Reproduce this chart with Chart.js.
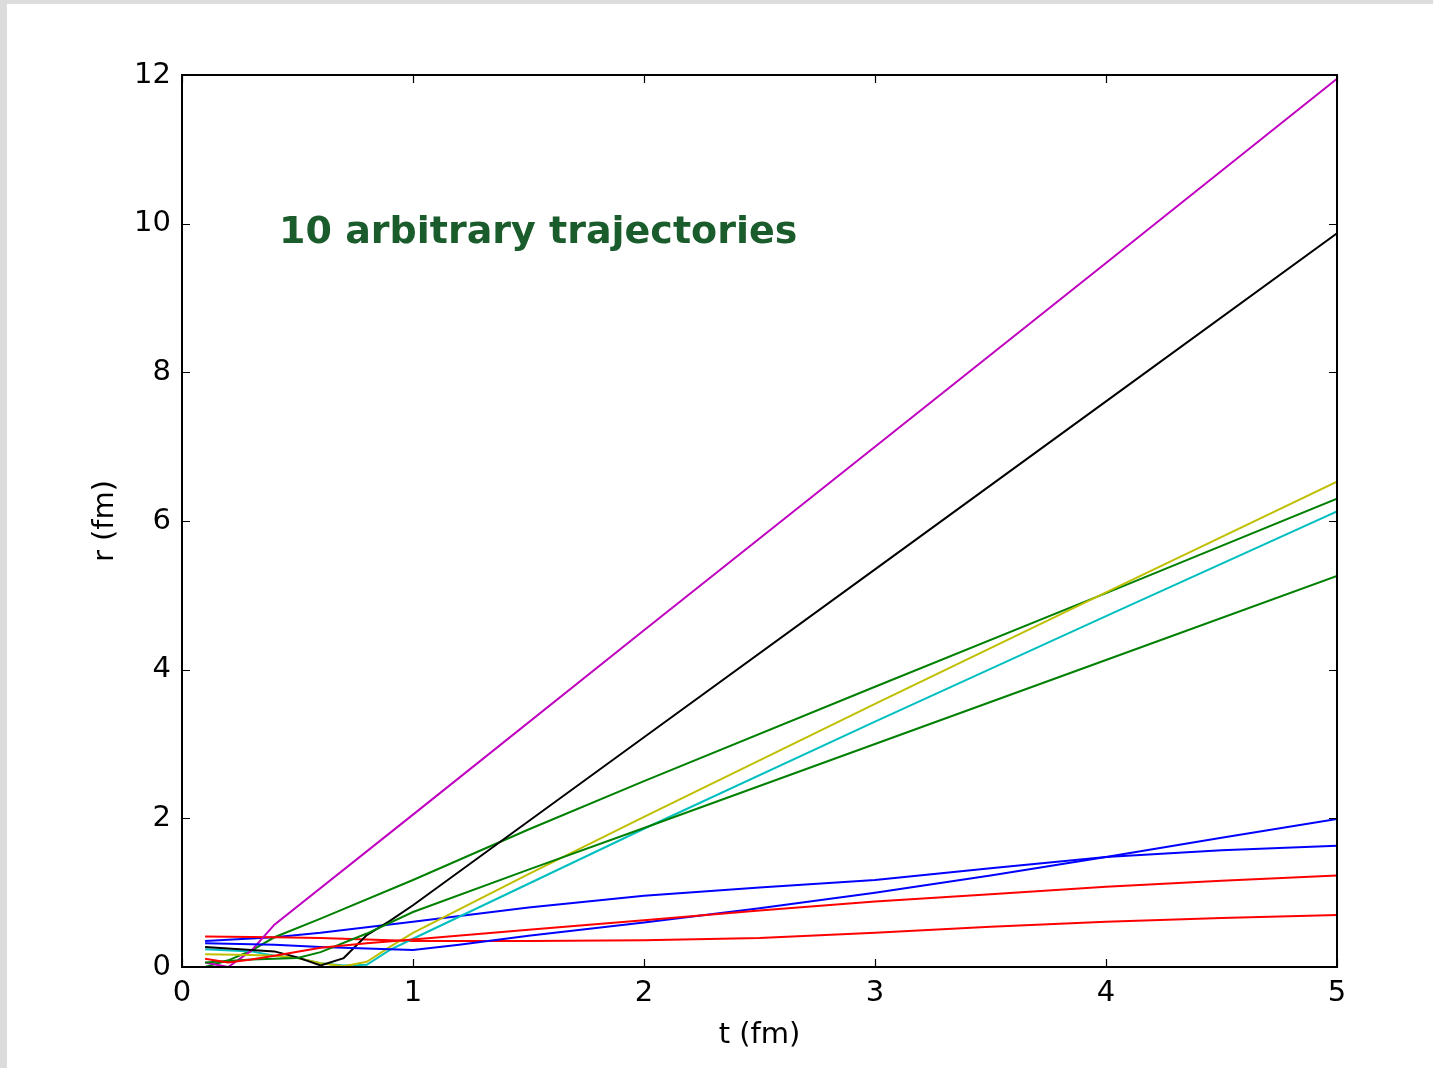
<!DOCTYPE html>
<html>
<head>
<meta charset="utf-8">
<script src="https://cdn.jsdelivr.net/npm/chart.js@4.4.0/dist/chart.umd.min.js"></script>
<style>
  html, body { margin: 0; padding: 0; background: #dcdcdc; overflow: hidden; width: 1433px; height: 1068px; }
  #c { position: absolute; left: 7px; top: 4px; background: #ffffff; }
</style>
</head>
<body>
<canvas id="c" width="1426" height="1064"></canvas>
<script>
// ---- Data (t in fm, r in fm) ----
const xTicks = [0, 1, 2, 3, 4, 5];
const yTicks = [0, 2, 4, 6, 8, 10, 12];
const xTitle = 't (fm)';
const yTitle = 'r (fm)';
const annotation = '10 arbitrary trajectories';

const tBlueA = [0.1, 0.4, 0.6, 1.0, 1.5, 2.0, 2.5, 3.0, 3.5, 4.0, 4.5, 5.0];
const rBlueA = [0.35, 0.40, 0.46, 0.61, 0.80, 0.96, 1.07, 1.17, 1.33, 1.48, 1.57, 1.63];

const tGreenA = [0.1, 0.2, 0.3, 0.4, 0.6, 1.0, 1.5, 2.0, 3.0, 4.0, 5.0];
const rGreenA = [0.0, 0.09, 0.22, 0.40, 0.65, 1.17, 1.85, 2.50, 3.77, 5.03, 6.30];

const tRedA = [0.1, 0.4, 0.6, 1.0, 1.5, 2.0, 2.5, 3.0, 3.5, 4.0, 4.5, 5.0];
const rRedA = [0.41, 0.40, 0.39, 0.35, 0.35, 0.36, 0.39, 0.46, 0.54, 0.61, 0.66, 0.70];

const tCyan = [0.1, 0.3, 0.4, 0.5, 0.6, 0.7, 0.8, 0.9, 1.0, 1.5, 2.0, 3.0, 4.0, 5.0];
const rCyan = [0.24, 0.21, 0.15, 0.12, 0.05, 0.02, 0.03, 0.23, 0.38, 1.12, 1.86, 3.30, 4.72, 6.13];

const tMagenta = [0.1, 0.2, 0.3, 0.4, 1.0, 2.0, 3.0, 4.0, 5.0];
const rMagenta = [0.06, 0.0, 0.22, 0.57, 2.05, 4.53, 7.00, 9.47, 11.95];

const tYellow = [0.1, 0.3, 0.4, 0.5, 0.6, 0.7, 0.8, 0.9, 1.0, 1.5, 2.0, 3.0, 4.0, 5.0];
const rYellow = [0.17, 0.16, 0.15, 0.12, 0.05, 0.01, 0.07, 0.27, 0.46, 1.25, 2.02, 3.54, 5.04, 6.53];

const tBlack = [0.1, 0.2, 0.3, 0.4, 0.5, 0.6, 0.7, 0.8, 0.9, 1.0, 2.0, 3.0, 4.0, 5.0];
const rBlack = [0.27, 0.25, 0.23, 0.21, 0.13, 0.02, 0.12, 0.43, 0.62, 0.83, 3.09, 5.35, 7.61, 9.87];

const tBlueB = [0.1, 0.4, 0.6, 0.8, 1.0, 1.2, 1.5, 2.0, 2.5, 3.0, 3.5, 4.0, 4.5, 5.0];
const rBlueB = [0.32, 0.30, 0.27, 0.25, 0.23, 0.30, 0.42, 0.60, 0.79, 1.00, 1.23, 1.48, 1.74, 1.99];

const tGreenB = [0.1, 0.2, 0.3, 0.5, 0.6, 0.8, 1.0, 1.5, 2.0, 3.0, 4.0, 5.0];
const rGreenB = [0.06, 0.08, 0.10, 0.12, 0.20, 0.45, 0.74, 1.31, 1.87, 3.00, 4.13, 5.26];

const tRedB = [0.1, 0.2, 0.3, 0.4, 0.6, 0.8, 1.0, 1.5, 2.0, 2.5, 3.0, 3.5, 4.0, 4.5, 5.0];
const rRedB = [0.11, 0.06, 0.10, 0.15, 0.26, 0.32, 0.37, 0.50, 0.63, 0.76, 0.88, 0.98, 1.08, 1.16, 1.23];

const seriesT = [tBlueA, tGreenA, tRedA, tCyan, tMagenta, tYellow, tBlack, tBlueB, tGreenB, tRedB];
const seriesR = [rBlueA, rGreenA, rRedA, rCyan, rMagenta, rYellow, rBlack, rBlueB, rGreenB, rRedB];
const seriesColors = ['#0000ff', '#008000', '#ff0000', '#00bfbf', '#bf00bf', '#bfbf00', '#000000', '#0000ff', '#008000', '#ff0000'];

// ---- Build datasets ----
const datasets = seriesT.map((ts, i) => ({
  data: ts.map((t, k) => ({ x: t, y: seriesR[i][k] })),
  borderColor: seriesColors[i],
  borderWidth: 2,
  pointRadius: 0,
  tension: 0,
  fill: false,
  order: seriesT.length - i
}));

const FONT = 'DejaVu Sans';

const framePlugin = {
  id: 'frame',
  afterDraw(chart) {
    const ctx = chart.ctx;
    const a = chart.chartArea;
    const xs = chart.scales.x, ys = chart.scales.y;
    ctx.save();
    // annotation text
    ctx.fillStyle = '#1a5c2c';
    ctx.font = 'bold 38px "Comic Sans MS", "DejaVu Sans"';
    ctx.textAlign = 'left';
    ctx.textBaseline = 'alphabetic';
    ctx.fillText(annotation, xs.getPixelForValue(0.42), ys.getPixelForValue(9.74));
    // ticks inward
    ctx.strokeStyle = '#000';
    ctx.lineWidth = 1.2;
    const L = 8;
    ctx.beginPath();
    xTicks.forEach(v => {
      const px = Math.round(xs.getPixelForValue(v)) + 0.5;
      ctx.moveTo(px, a.bottom); ctx.lineTo(px, a.bottom - L);
      ctx.moveTo(px, a.top); ctx.lineTo(px, a.top + L);
    });
    yTicks.forEach(v => {
      const py = Math.round(ys.getPixelForValue(v)) + 0.5;
      ctx.moveTo(a.left, py); ctx.lineTo(a.left + L, py);
      ctx.moveTo(a.right, py); ctx.lineTo(a.right - L, py);
    });
    ctx.stroke();
    // frame
    ctx.lineWidth = 2;
    ctx.strokeRect(a.left, a.top, a.right - a.left, a.bottom - a.top);
    ctx.restore();
  }
};

new Chart(document.getElementById('c'), {
  type: 'line',
  data: { datasets },
  options: {
    responsive: false,
    animation: false,
    devicePixelRatio: 1,
    layout: { padding: { left: 0, top: 71, right: 96, bottom: 0 } },
    plugins: { legend: { display: false }, tooltip: { enabled: false } },
    scales: {
      x: {
        type: 'linear', min: 0, max: 5,
        grid: { display: false, drawTicks: false },
        border: { display: false },
        ticks: { stepSize: 1, color: '#000', font: { family: FONT, size: 29 }, padding: 9, maxRotation: 0,
                 callback: v => xTicks.includes(v) ? String(v) : null },
        title: { display: true, text: xTitle, color: '#000', font: { family: FONT, size: 29 }, padding: { top: 0, bottom: 15.6 } },
        afterFit(s) { s.height = 101; }
      },
      y: {
        type: 'linear', min: 0, max: 12,
        grid: { display: false, drawTicks: false },
        border: { display: false },
        ticks: { stepSize: 2, color: '#000', font: { family: FONT, size: 29 }, padding: 11,
                 callback: v => yTicks.includes(v) ? String(v) : null },
        title: { display: true, text: yTitle, color: '#000', font: { family: FONT, size: 29 }, padding: { top: 80.6, bottom: 0 } },
        afterFit(s) { s.width = 175; }
      }
    }
  },
  plugins: [framePlugin]
});
</script>
</body>
</html>
